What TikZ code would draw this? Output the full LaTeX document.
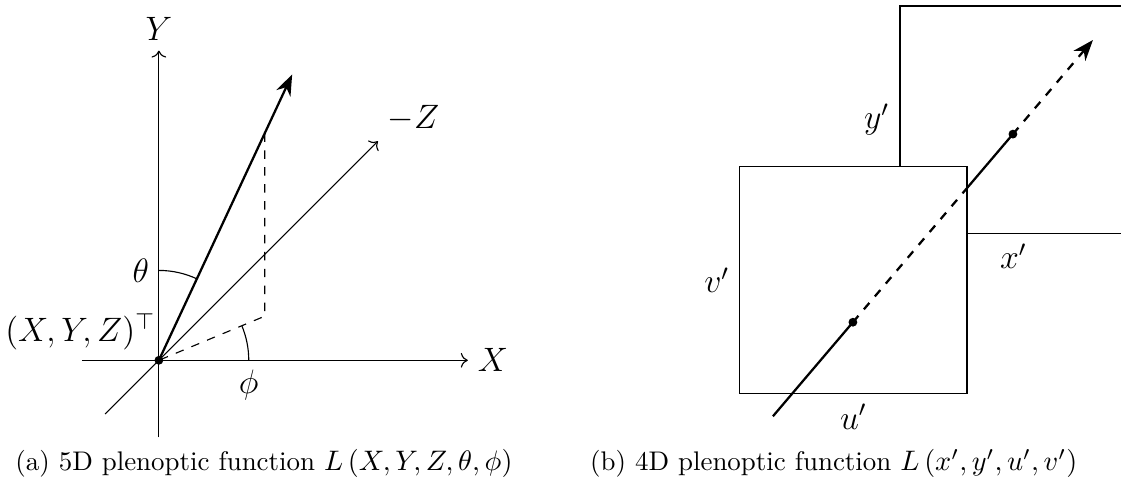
\documentclass[tikz,border=0pt]{standalone}
\usepackage{amsmath,amssymb}
\usepackage{tikz}
\usetikzlibrary{arrows.meta,positioning,calc}

\begin{document}
\begin{tikzpicture}[
  axis/.style={->},
  ray/.style={thick},
  lab/.style={font=\fontsize{11.6}{14}\selectfont},
  subcap/.style={font=\fontsize{9.55}{12}\selectfont},
  plane/.style={draw,minimum size=2.83cm,inner sep=0pt,fill=white},
  dot/.style={circle,fill,inner sep=0pt,minimum size=1.1mm}]
\useasboundingbox (-1.98,-1.57) rectangle (11.99,4.49);
\coordinate (o) at (0,0);
\coordinate (xl) at (-0.96,0);
\coordinate (xr) at (3.85,0);
\coordinate (yb) at (0,-0.96);
\coordinate (yt) at (0,3.86);
\coordinate (zb) at (-0.67,-0.67);
\coordinate (zt) at (2.73,2.73);
\coordinate (dir) at (65:3.93);
\coordinate (top) at (65:3.12);
\coordinate (foot) at (1.32,0.55);
\draw[axis] (xl) -- (xr);
\draw[axis] (yb) -- (yt);
\draw[axis] (zb) -- (zt);
\draw[thick,-{Stealth[length=2.6mm]}] (o) -- (dir);
\draw[dashed] (top) -- (foot) -- (o);
\draw (0,1.12) arc[start angle=90,end angle=65,radius=1.12];
\draw (1.12,0) arc[start angle=0,end angle=22.6,radius=1.12];
\node[dot] (odot) at (o) {};
\node[lab,right] (xlab) at (xr) {$X$};
\node[lab,above] (ylab) at (yt) {$Y$};
\node[lab,above right] (zlab) at (zt) {$-Z$};
\node[lab,left] (thlab) at (0,1.12) {$\theta$};
\node[lab,below] (phlab) at (1.12,0) {$\phi$};
\node[lab,above left,xshift=0.08cm] (plab) at (o) {$(X,Y,Z)^\top$};
\node[plane] (xy) at (10.65,3.0) {};
\node[plane] (uv) at (8.656,0.997) {};
\node[lab,left] (vlab) at (uv.west) {$v'$};
\node[lab,below] (ulab) at (uv.south) {$u'$};
\node[lab,left] (ylab2) at (xy.west) {$y'$};
\node[lab,below] (xlab2) at (xy.south) {$x'$};
\coordinate (s) at (7.652,-0.698);
\coordinate (t) at (11.64,3.991);
\coordinate (p1) at ($(s)!0.25!(t)$);
\coordinate (p2) at ($(s)!0.75!(t)$);
\coordinate (c) at (intersection of s--t and uv.north east--uv.south east);
\draw[ray] (s) -- (p1);
\draw[ray,dashed] (p1) -- (c);
\draw[ray] (c) -- (p2);
\draw[ray,dashed,-{Stealth[length=2.6mm]}] (p2) -- (t);
\node[dot] (d1) at (p1) {};
\node[dot] (d2) at (p2) {};
\node[subcap] (capa) at (1.31,-1.284) {(a) 5D plenoptic function $L\left(X,Y,Z,\theta,\phi\right)$};
\node[subcap] (capb) at (8.41,-1.284) {(b) 4D plenoptic function $L\left(x',y',u',v'\right)$};
\end{tikzpicture}
\end{document}
